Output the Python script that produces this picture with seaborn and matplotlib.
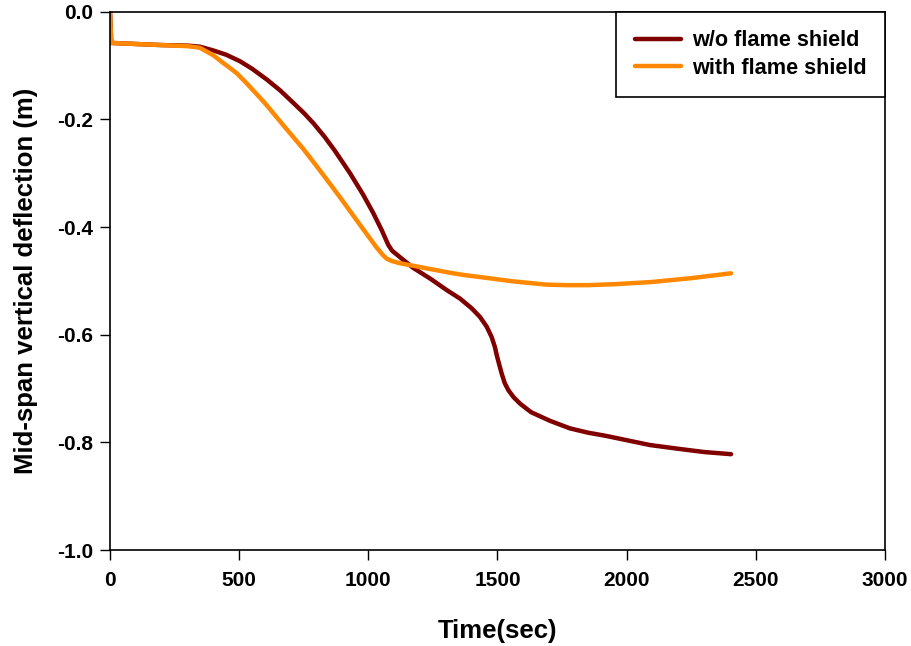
import matplotlib
matplotlib.use("Agg")
import matplotlib.pyplot as plt
import pandas as pd
import seaborn as sns

# Mid-span deflection histories (time in s, deflection in m)
time_no_shield = [0, 5, 100, 200, 300, 348, 400, 450, 503, 550, 607, 658, 700, 750, 787,
                  830, 870, 929, 980, 1019, 1052, 1077, 1092, 1130, 1174, 1240, 1303, 1355,
                  1400, 1432, 1458, 1477, 1490, 1497, 1507, 1516, 1528, 1542, 1562, 1587,
                  1630, 1703, 1780, 1850, 1920, 2000, 2090, 2200, 2300, 2404]
defl_no_shield = [0.0, -0.058, -0.060, -0.062, -0.063, -0.065, -0.072, -0.080, -0.092,
                  -0.106, -0.126, -0.146, -0.165, -0.188, -0.207, -0.232, -0.258, -0.300,
                  -0.340, -0.374, -0.406, -0.433, -0.444, -0.459, -0.476, -0.496, -0.517,
                  -0.533, -0.551, -0.567, -0.585, -0.604, -0.623, -0.638, -0.656, -0.672,
                  -0.690, -0.703, -0.716, -0.728, -0.744, -0.760, -0.774, -0.782, -0.788,
                  -0.796, -0.805, -0.812, -0.818, -0.822]

time_shield = [0, 5, 100, 200, 300, 348, 400, 439, 490, 529, 600, 671, 750, 800, 852, 900,
               942, 980, 1032, 1058, 1072, 1090, 1120, 1174, 1250, 1316, 1368, 1450, 1561,
               1690, 1769, 1850, 1962, 2100, 2250, 2404]
defl_shield = [0.0, -0.058, -0.060, -0.062, -0.064, -0.067, -0.081, -0.0955, -0.114,
               -0.133, -0.170, -0.211, -0.256, -0.287, -0.320, -0.351, -0.379, -0.404,
               -0.438, -0.453, -0.459, -0.463, -0.467, -0.472, -0.479, -0.485, -0.489,
               -0.494, -0.501, -0.507, -0.508, -0.508, -0.506, -0.502, -0.495, -0.486]

series_names = ["w/o flame shield", "with flame shield"]
series_colors = ["#800000", "#FF8800"]
x_ticks = [0, 500, 1000, 1500, 2000, 2500, 3000]
y_ticks = [0.0, -0.2, -0.4, -0.6, -0.8, -1.0]

df = pd.concat([
    pd.DataFrame({"time": time_no_shield, "defl": defl_no_shield, "case": series_names[0]}),
    pd.DataFrame({"time": time_shield, "defl": defl_shield, "case": series_names[1]}),
], ignore_index=True)

sns.set_style("ticks")
plt.rcParams["font.family"] = ["Liberation Sans", "DejaVu Sans"]
plt.rcParams["font.weight"] = "bold"
plt.rcParams["axes.unicode_minus"] = False
plt.rcParams["text.color"] = "black"
plt.rcParams["axes.labelcolor"] = "black"
plt.rcParams["xtick.color"] = "black"
plt.rcParams["ytick.color"] = "black"

fig = plt.figure(figsize=(9.12, 6.46), dpi=100)
ax = fig.add_axes([0.1206, 0.1486, 0.8498, 0.8333])

sns.lineplot(data=df, x="time", y="defl", hue="case", hue_order=series_names,
             palette=series_colors, sort=False, estimator=None, linewidth=3.2, ax=ax)

ax.set_xlim(0, 3000)
ax.set_ylim(-1.0, 0.0)
ax.set_xticks(x_ticks)
ax.set_xticklabels([f"{v:d}" for v in x_ticks])
ax.set_yticks(y_ticks)
ax.set_yticklabels([f"{v:.1f}" for v in y_ticks])
ax.tick_params(axis="both", direction="out", length=7, width=1.0, color="black",
               labelsize=15, labelcolor="black")
ax.tick_params(axis="x", pad=8)
ax.tick_params(axis="y", pad=5)
for side in ["top", "right", "bottom", "left"]:
    ax.spines[side].set_visible(True)
    ax.spines[side].set_color("black")
    ax.spines[side].set_linewidth(1.2)

ax.set_xlabel("Time(sec)", fontsize=18.5, fontweight="bold", color="black", labelpad=21)
ax.set_ylabel("Mid-span vertical deflection (m)", fontsize=18.5, fontweight="bold",
              color="black", labelpad=14)

leg = ax.legend(loc="upper right", bbox_to_anchor=(1.0, 1.0), borderaxespad=0.0,
                frameon=True, fancybox=False, shadow=False, framealpha=1.0,
                prop={"size": 15.6, "weight": "bold"}, handlelength=2.15,
                labelspacing=0.3, borderpad=0.85, handletextpad=0.5)
leg.get_frame().set_edgecolor("black")
leg.get_frame().set_linewidth(1.2)
for line in leg.get_lines():
    line.set_linewidth(3.2)
for text in leg.get_texts():
    text.set_color("black")

fig.savefig("out.png", dpi=100)
